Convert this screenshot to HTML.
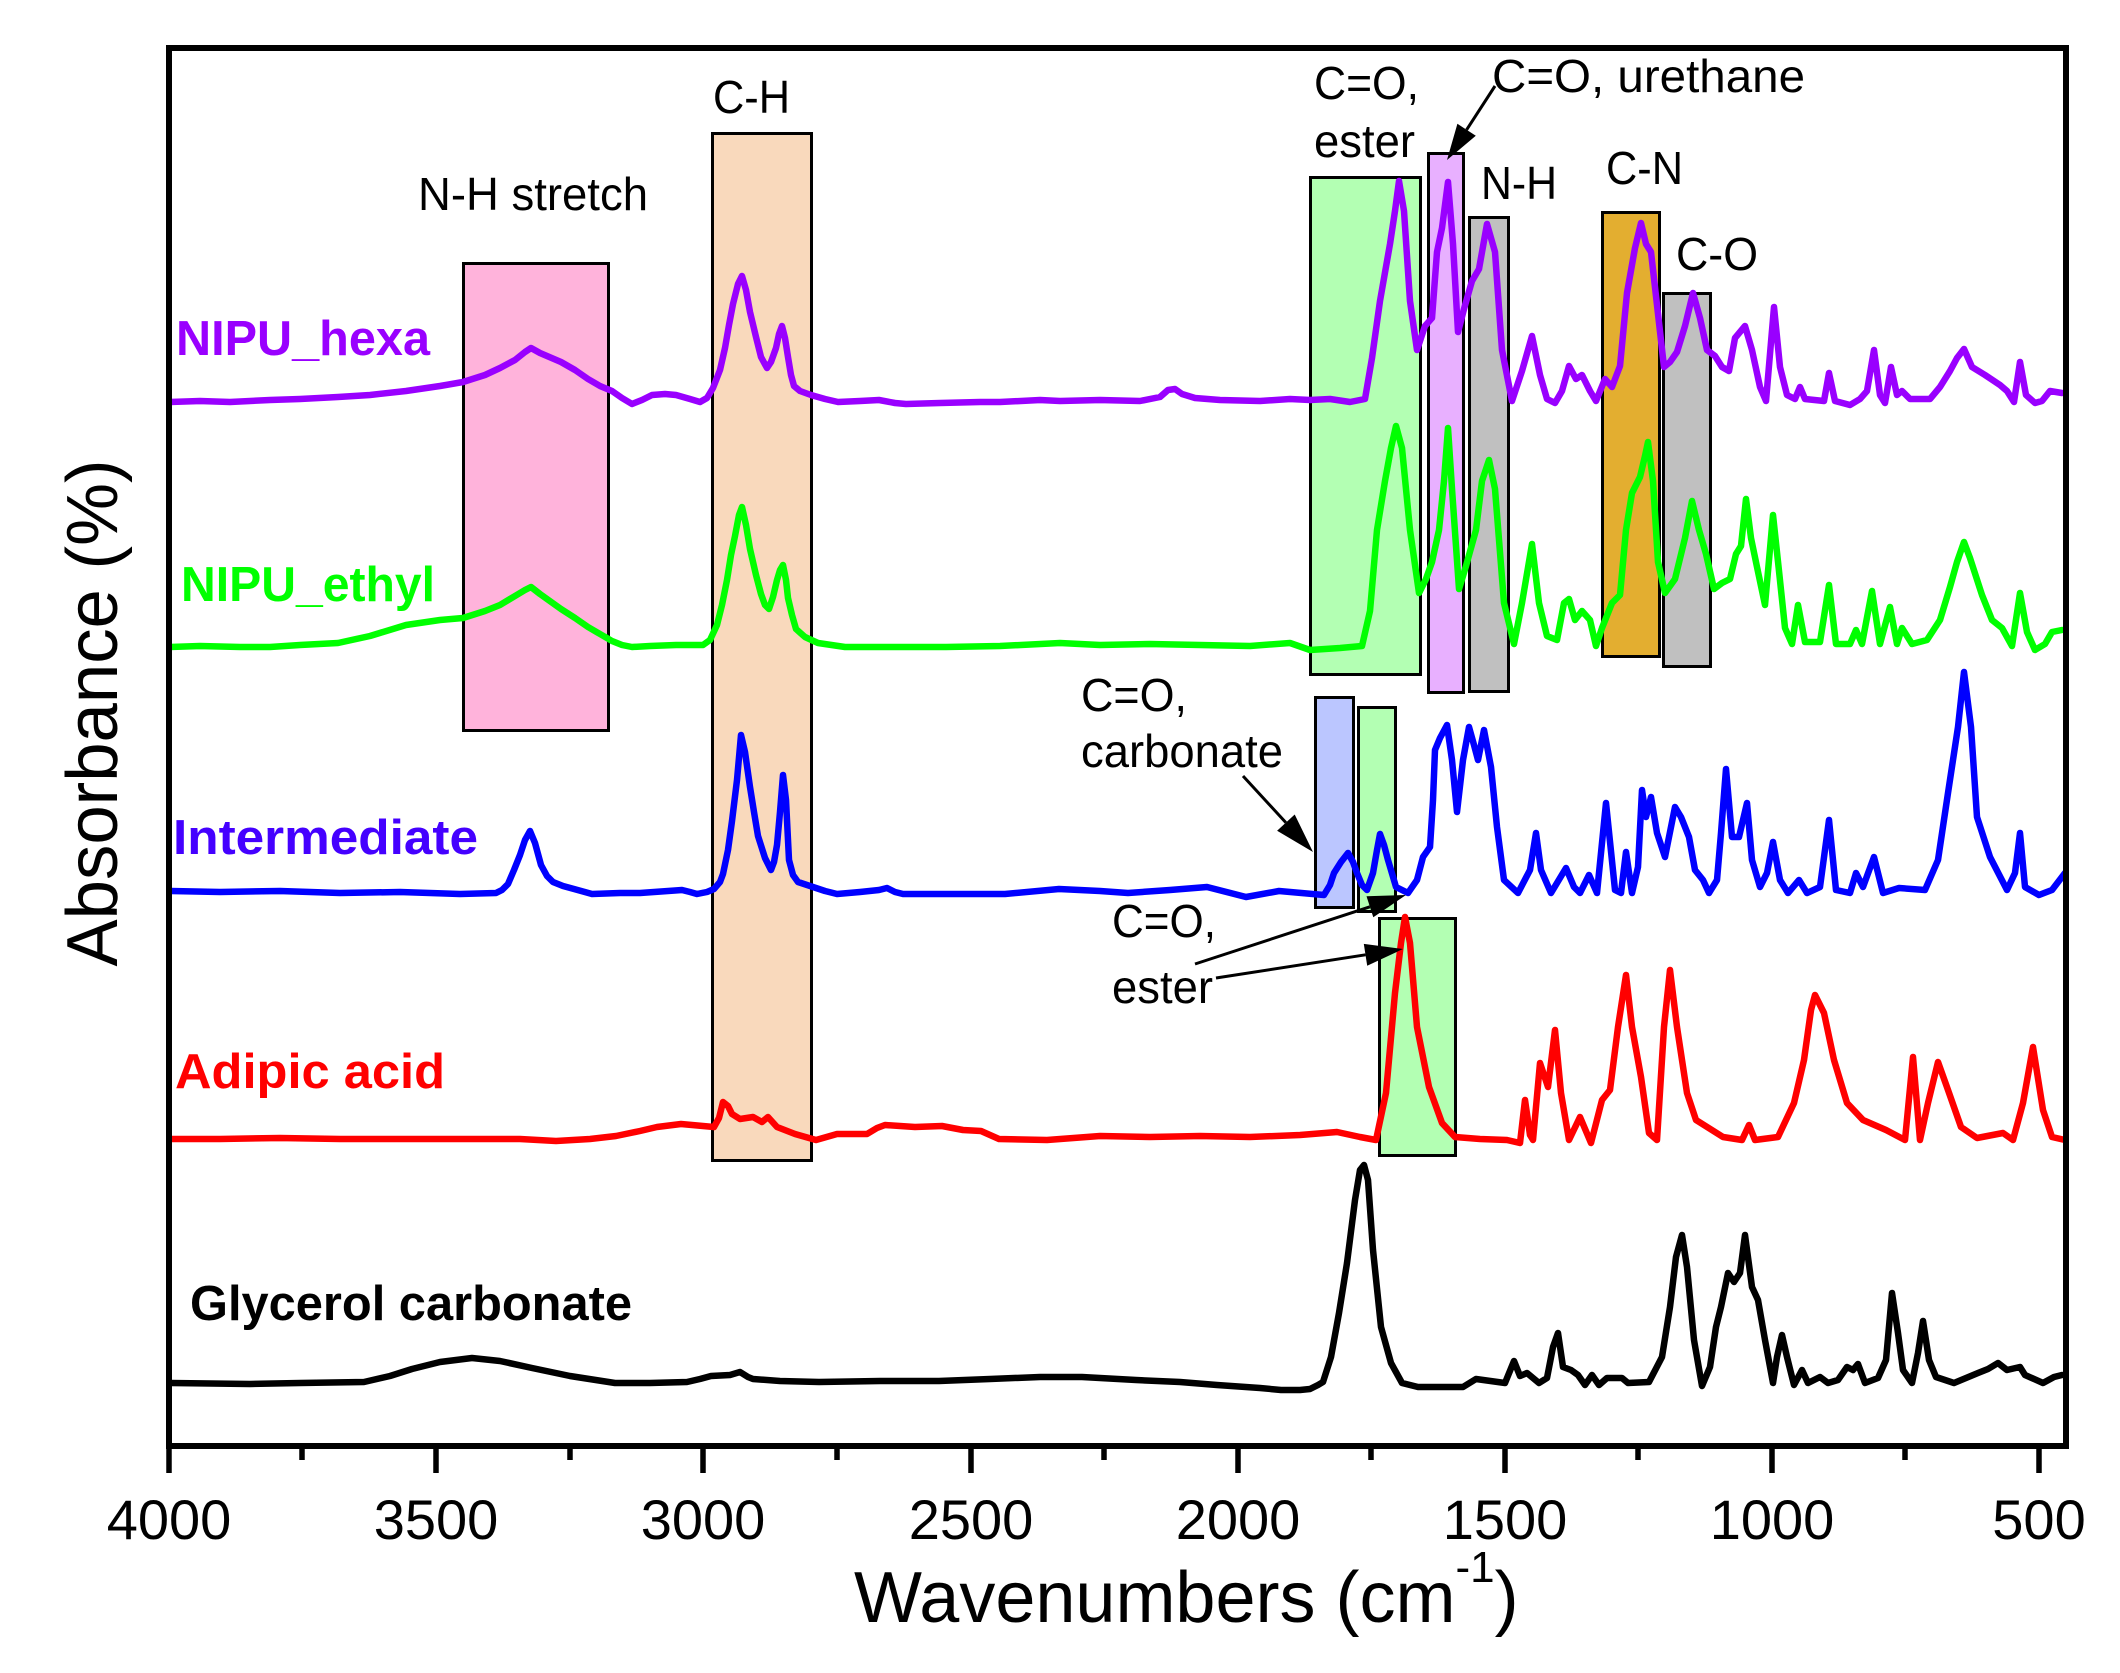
<!DOCTYPE html>
<html>
<head>
<meta charset="utf-8">
<style>
html,body{margin:0;padding:0;background:#fff;}
svg{display:block;}
text{font-family:"Liberation Sans",Arial,sans-serif;}
</style>
</head>
<body>
<svg width="2120" height="1673" viewBox="0 0 2120 1673" xmlns="http://www.w3.org/2000/svg">
<rect x="0" y="0" width="2120" height="1673" fill="#fff"/>

<!-- shaded boxes -->
<g stroke="#000" stroke-width="3">
  <rect x="463.5" y="263.5" width="145" height="467" fill="#FFB3DB"/>
  <rect x="712.5" y="133.5" width="99" height="1027" fill="#F9D9BC"/>
  <rect x="1310.5" y="177.5" width="110" height="497" fill="#B3FFB3"/>
  <rect x="1428.5" y="153.5" width="35" height="539" fill="#E8B0FF"/>
  <rect x="1469.5" y="217.5" width="39" height="474" fill="#C0C0C0"/>
  <rect x="1602.5" y="212.5" width="57" height="444" fill="#E3AE30"/>
  <rect x="1663.5" y="293.5" width="47" height="373" fill="#C0C0C0"/>
  <rect x="1315.5" y="697.5" width="38" height="210" fill="#BBC6FF"/>
  <rect x="1358.5" y="707.5" width="37" height="204" fill="#B3FFB3"/>
  <rect x="1379.5" y="918.5" width="76" height="237" fill="#B3FFB3"/>
</g>

<!-- spectra -->
<g fill="none" stroke-width="6.5" stroke-linejoin="round" stroke-linecap="round">
<polyline stroke="#9900FF" points="170,402 200,401 230,402 270,400 300,399 338,397 370,395 406,391 440,386 463,382 485,375 500,368 515,360 525,352 531,348 540,353 561,362 575,370 588,379 600,386 612,391 622,398 632,404 642,400 652,395 665,394 676,395 690,399 700,402 707,398 713,388 720,370 725,348 729,325 733,304 738,284 742,276 746,290 750,312 756,337 761,357 767,368 771,362 776,348 779,334 782,326 785,338 788,357 791,375 794,386 800,391 811,395 825,399 838,402 860,401 879,400 895,403 906,404 940,403 980,402 1000,402 1040,400 1060,401 1100,400 1140,401 1160,397 1168,390 1175,389 1182,394 1195,398 1220,400 1260,401 1290,399 1310,400 1330,399 1350,402 1365,399 1372,358 1380,301 1390,244 1395,211 1399,181 1404,211 1410,301 1417,350 1425,326 1432,318 1437,252 1442,228 1448,182 1453,244 1458,332 1464,309 1472,281 1479,269 1487,224 1495,252 1502,350 1512,401 1522,371 1532,336 1540,375 1547,399 1555,403 1562,391 1569,366 1576,379 1582,375 1590,391 1596,401 1605,379 1612,387 1620,366 1627,293 1635,248 1641,223 1646,244 1651,252 1657,305 1664,367 1670,362 1677,352 1685,326 1693,293 1700,318 1707,350 1715,356 1722,367 1729,371 1735,338 1745,326 1752,350 1760,387 1766,401 1774,307 1780,367 1787,395 1795,399 1800,387 1805,399 1824,401 1829,373 1835,401 1850,405 1860,399 1867,391 1874,350 1880,395 1885,403 1891,367 1897,395 1902,391 1910,399 1930,399 1940,387 1950,371 1957,358 1964,349 1972,367 1985,375 2000,385 2007,391 2014,402 2020,362 2026,395 2035,403 2042,401 2050,391 2062,393"/>

<polyline stroke="#00FF00" points="170,647 200,646 240,647 270,647 300,645 338,643 370,636 406,625 440,620 463,618 485,611 500,605 515,596 525,590 531,587 540,594 561,609 575,618 588,627 600,634 612,641 622,645 632,647 650,646 676,645 703,645 710,640 717,625 722,605 727,580 731,555 735,536 739,515 742,507 746,525 750,549 756,575 761,594 765,605 769,609 773,597 777,580 780,570 783,565 786,580 788,598 792,615 796,629 805,637 818,643 845,647 900,647 946,647 1000,646 1060,643 1100,645 1150,644 1200,645 1250,646 1290,643 1310,650 1340,648 1362,646 1370,611 1377,530 1385,481 1391,448 1396,426 1402,448 1410,530 1419,593 1426,579 1432,562 1439,530 1444,481 1448,428 1452,489 1459,589 1466,566 1476,530 1482,481 1489,460 1495,489 1504,603 1514,644 1522,603 1532,544 1539,603 1547,636 1557,640 1564,603 1569,599 1575,620 1582,611 1590,620 1596,646 1602,628 1612,603 1620,595 1626,530 1632,493 1640,477 1645,456 1648,442 1653,481 1658,562 1665,593 1675,579 1685,538 1692,501 1699,530 1706,554 1714,589 1722,583 1730,579 1736,554 1741,546 1746,499 1751,538 1757,567 1765,605 1773,515 1779,571 1785,628 1792,644 1798,605 1805,642 1820,642 1829,585 1836,644 1850,644 1856,630 1862,644 1872,591 1880,644 1890,607 1897,644 1902,628 1912,644 1927,640 1940,620 1950,587 1957,562 1964,542 1970,558 1982,595 1992,620 2002,628 2012,646 2020,593 2027,632 2035,650 2045,644 2052,632 2062,630"/>

<polyline stroke="#0000FF" points="171,891 220,892 280,891 340,893 400,892 460,894 496,893 502,890 508,884 514,870 520,855 525,840 530,831 535,843 541,865 547,876 553,882 563,886 574,889 592,894 620,893 640,893 682,890 690,892 697,894 707,892 714,889 720,882 723,874 728,850 732,821 737,780 741,735 745,752 750,787 754,812 758,836 765,858 771,870 774,862 777,845 780,812 783,775 786,800 789,860 793,875 798,882 813,887 825,891 837,894 860,892 879,890 887,888 895,892 903,894 950,894 1005,894 1059,889 1100,891 1128,893 1170,890 1207,887 1246,897 1279,891 1324,895 1330,885 1334,873 1341,862 1348,853 1353,862 1357,873 1362,885 1367,890 1373,873 1377,850 1380,834 1384,845 1388,860 1396,887 1408,893 1417,880 1423,857 1430,847 1433,800 1435,750 1440,738 1447,725 1452,760 1457,812 1463,760 1469,727 1474,745 1478,760 1484,730 1491,767 1497,827 1504,880 1518,893 1530,870 1536,833 1541,870 1551,893 1566,868 1574,887 1580,893 1589,875 1597,893 1606,803 1615,890 1621,893 1626,852 1632,893 1638,867 1642,790 1646,817 1651,797 1657,833 1665,857 1675,807 1681,817 1689,837 1695,870 1703,880 1709,893 1717,880 1721,833 1726,769 1732,837 1739,837 1747,803 1752,860 1760,887 1767,873 1773,842 1780,880 1788,893 1799,880 1807,893 1820,887 1829,820 1836,890 1850,893 1856,873 1863,887 1874,857 1883,893 1899,888 1925,890 1938,860 1948,793 1958,727 1964,672 1971,727 1977,817 1990,857 2007,890 2015,873 2020,833 2025,887 2039,895 2052,890 2065,873"/>

<polyline stroke="#FF0000" points="171,1139 220,1139 280,1138 340,1139 400,1139 460,1139 520,1139 556,1141 590,1139 616,1136 640,1131 657,1127 681,1124 714,1127 719,1118 723,1102 728,1106 732,1114 740,1119 753,1117 762,1122 768,1117 777,1127 795,1134 816,1140 837,1134 867,1134 877,1128 885,1125 915,1127 942,1126 963,1130 981,1131 999,1139 1047,1140 1100,1136 1150,1137 1200,1136 1250,1137 1300,1135 1337,1132 1360,1137 1376,1140 1386,1093 1395,993 1401,943 1405,917 1410,943 1417,1027 1429,1087 1442,1123 1455,1137 1480,1139 1507,1140 1520,1143 1525,1100 1530,1135 1533,1140 1540,1063 1548,1087 1555,1030 1561,1093 1569,1140 1580,1117 1591,1143 1602,1100 1610,1090 1618,1027 1626,975 1632,1027 1641,1077 1649,1133 1657,1140 1664,1027 1670,970 1677,1027 1687,1093 1696,1120 1723,1137 1742,1140 1749,1125 1755,1140 1778,1137 1794,1103 1804,1060 1811,1010 1815,995 1824,1013 1834,1060 1847,1103 1863,1120 1886,1130 1905,1140 1913,1057 1920,1140 1928,1103 1938,1062 1948,1090 1961,1127 1977,1138 2003,1133 2013,1140 2023,1103 2033,1047 2043,1110 2052,1137 2065,1140"/>

<polyline stroke="#000000" points="171,1383 250,1384 300,1383 364,1382 390,1376 412,1369 440,1362 472,1358 500,1361 532,1368 570,1376 615,1383 650,1383 687,1382 700,1379 711,1376 730,1375 740,1372 748,1377 753,1379 780,1381 819,1382 880,1381 939,1381 990,1379 1040,1377 1082,1377 1136,1380 1180,1382 1217,1385 1260,1388 1281,1390 1300,1390 1310,1389 1318,1385 1323,1382 1331,1357 1339,1313 1347,1263 1355,1200 1360,1170 1364,1165 1368,1180 1373,1250 1381,1327 1391,1363 1402,1383 1418,1387 1463,1387 1476,1379 1505,1383 1514,1361 1520,1376 1527,1373 1539,1383 1547,1378 1553,1347 1558,1333 1563,1367 1571,1370 1578,1375 1585,1385 1592,1375 1599,1385 1607,1378 1622,1378 1628,1383 1649,1382 1662,1357 1670,1307 1676,1257 1682,1235 1687,1267 1694,1340 1702,1386 1710,1367 1716,1327 1721,1307 1728,1273 1734,1282 1740,1273 1745,1235 1752,1287 1758,1300 1765,1340 1773,1383 1777,1357 1782,1335 1787,1357 1794,1385 1802,1370 1808,1383 1820,1377 1828,1383 1838,1380 1847,1367 1853,1370 1858,1364 1865,1383 1878,1378 1886,1360 1892,1293 1898,1333 1903,1370 1912,1383 1918,1353 1923,1321 1929,1360 1936,1377 1954,1383 1978,1373 1988,1369 1998,1363 2007,1370 2020,1367 2025,1375 2043,1383 2054,1377 2062,1375"/>
</g>

<!-- frame -->
<rect x="169" y="48" width="1897" height="1398" fill="none" stroke="#000" stroke-width="6"/>

<!-- ticks -->
<g stroke="#000" stroke-width="5.5">
  <line x1="169" y1="1446" x2="169" y2="1473"/>
  <line x1="302" y1="1446" x2="302" y2="1460"/>
  <line x1="436" y1="1446" x2="436" y2="1473"/>
  <line x1="570" y1="1446" x2="570" y2="1460"/>
  <line x1="703" y1="1446" x2="703" y2="1473"/>
  <line x1="837" y1="1446" x2="837" y2="1460"/>
  <line x1="971" y1="1446" x2="971" y2="1473"/>
  <line x1="1104" y1="1446" x2="1104" y2="1460"/>
  <line x1="1238" y1="1446" x2="1238" y2="1473"/>
  <line x1="1371" y1="1446" x2="1371" y2="1460"/>
  <line x1="1505" y1="1446" x2="1505" y2="1473"/>
  <line x1="1638" y1="1446" x2="1638" y2="1460"/>
  <line x1="1772" y1="1446" x2="1772" y2="1473"/>
  <line x1="1905" y1="1446" x2="1905" y2="1460"/>
  <line x1="2039" y1="1446" x2="2039" y2="1473"/>
</g>

<!-- tick labels -->
<g font-size="56" text-anchor="middle" fill="#000">
  <text x="169" y="1539">4000</text>
  <text x="436" y="1539">3500</text>
  <text x="703" y="1539">3000</text>
  <text x="971" y="1539">2500</text>
  <text x="1238" y="1539">2000</text>
  <text x="1505" y="1539">1500</text>
  <text x="1772" y="1539">1000</text>
  <text x="2039" y="1539">500</text>
</g>

<!-- axis titles -->
<text x="854" y="1622" font-size="72" fill="#000">Wavenumbers (cm<tspan font-size="44" dy="-40">-1</tspan><tspan dy="40">)</tspan></text>
<text transform="translate(117,713) rotate(-90)" text-anchor="middle" font-size="72" textLength="507" lengthAdjust="spacingAndGlyphs" fill="#000">Absorbance (%)</text>

<!-- series labels -->
<g font-weight="bold" font-size="49">
  <text x="176" y="355" fill="#9900FF" textLength="254" lengthAdjust="spacingAndGlyphs">NIPU_hexa</text>
  <text x="181" y="601" fill="#00FF00" textLength="254" lengthAdjust="spacingAndGlyphs">NIPU_ethyl</text>
  <text x="173" y="854" fill="#4400FF" textLength="305" lengthAdjust="spacingAndGlyphs">Intermediate</text>
  <text x="175" y="1088" fill="#FF0000" textLength="270" lengthAdjust="spacingAndGlyphs">Adipic acid</text>
  <text x="190" y="1320" fill="#000000" textLength="442" lengthAdjust="spacingAndGlyphs">Glycerol carbonate</text>
</g>

<!-- annotations -->
<g font-size="46" fill="#000">
  <text x="418" y="210" textLength="230" lengthAdjust="spacingAndGlyphs">N-H stretch</text>
  <text x="713" y="113" textLength="77" lengthAdjust="spacingAndGlyphs">C-H</text>
  <text x="1314" y="99" textLength="105" lengthAdjust="spacingAndGlyphs">C=O,</text>
  <text x="1314" y="157" textLength="101" lengthAdjust="spacingAndGlyphs">ester</text>
  <text x="1492" y="92" textLength="313" lengthAdjust="spacingAndGlyphs">C=O, urethane</text>
  <text x="1481" y="199" textLength="76" lengthAdjust="spacingAndGlyphs">N-H</text>
  <text x="1606" y="184" textLength="77" lengthAdjust="spacingAndGlyphs">C-N</text>
  <text x="1676" y="270" textLength="82" lengthAdjust="spacingAndGlyphs">C-O</text>
  <text x="1081" y="711" textLength="106" lengthAdjust="spacingAndGlyphs">C=O,</text>
  <text x="1081" y="767" textLength="202" lengthAdjust="spacingAndGlyphs">carbonate</text>
  <text x="1112" y="937" textLength="104" lengthAdjust="spacingAndGlyphs">C=O,</text>
  <text x="1112" y="1003" textLength="101" lengthAdjust="spacingAndGlyphs">ester</text>
</g>

<!-- arrows -->
<g stroke="#000" stroke-width="3" fill="none">
  <line x1="1495" y1="86" x2="1466.6" y2="129.8"/>
  <line x1="1243" y1="776" x2="1285.9" y2="822.6"/>
  <line x1="1195" y1="964" x2="1369.9" y2="906.8"/>
  <line x1="1216" y1="978" x2="1365.5" y2="954.8"/>
</g>
<g fill="#000">
  <polygon points="1447,160 1475.8,135.8 1457.4,123.8"/>
  <polygon points="1313,852 1277.1,830.7 1294.7,814.5"/>
  <polygon points="1406,895 1373.3,917.3 1366.5,896.3"/>
  <polygon points="1403,949 1367.2,965.7 1363.8,943.9"/>
</g>
</svg>
</body>
</html>
